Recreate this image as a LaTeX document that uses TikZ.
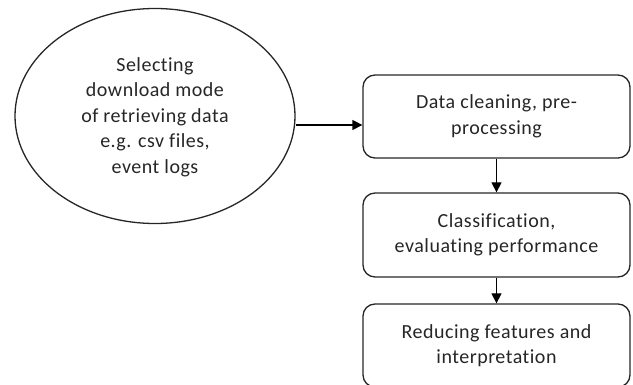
\documentclass[tikz,border=0pt]{standalone}
\usepackage{fontspec}
\setmainfont{Carlito}[Ligatures=NoCommon, LetterSpace=2.5]
\usetikzlibrary{arrows.meta,shapes.geometric}
\begin{document}
\begin{tikzpicture}[x=1pt,y=-1pt,
  every node/.style={font=\fontsize{20}{25.5}\selectfont, text=black!85, align=center},
  stagebox/.style={draw=black!85, line width=1.3pt, rounded corners=12pt, inner sep=0pt},
  flow/.style={draw=black, line width=1.3pt, -{Triangle[length=10pt,width=10pt]}}]
  \useasboundingbox (0,0) rectangle (633,385);
  \clip (0,0) rectangle (633,385);
  % source ellipse
  \node[draw=black!85, line width=1.3pt, ellipse, minimum width=280pt, minimum height=215pt, inner sep=0pt] (src) at (155,116) {};
  \node at (155,117) {Selecting\\download mode\\of retrieving data\\e.g. csv files,\\event logs};
  % processing stages
  \node[stagebox, minimum width=267pt, minimum height=83pt] (clean) at (496.5,116.5) {Data cleaning, pre-\\processing};
  \node[stagebox, minimum width=267pt, minimum height=84pt] (cls) at (496.5,235) {Classification,\\evaluating performance};
  \node[stagebox, minimum width=267pt, minimum height=83pt] (red) at (496.5,345.5) {Reducing features and\\interpretation};
  % connectors
  \draw[flow] (src.east |- 0,125) -- (clean.west |- 0,125);
  \draw[flow] (clean.south) -- (cls.north);
  \draw[flow] (cls.south) -- (red.north);
\end{tikzpicture}
\end{document}
